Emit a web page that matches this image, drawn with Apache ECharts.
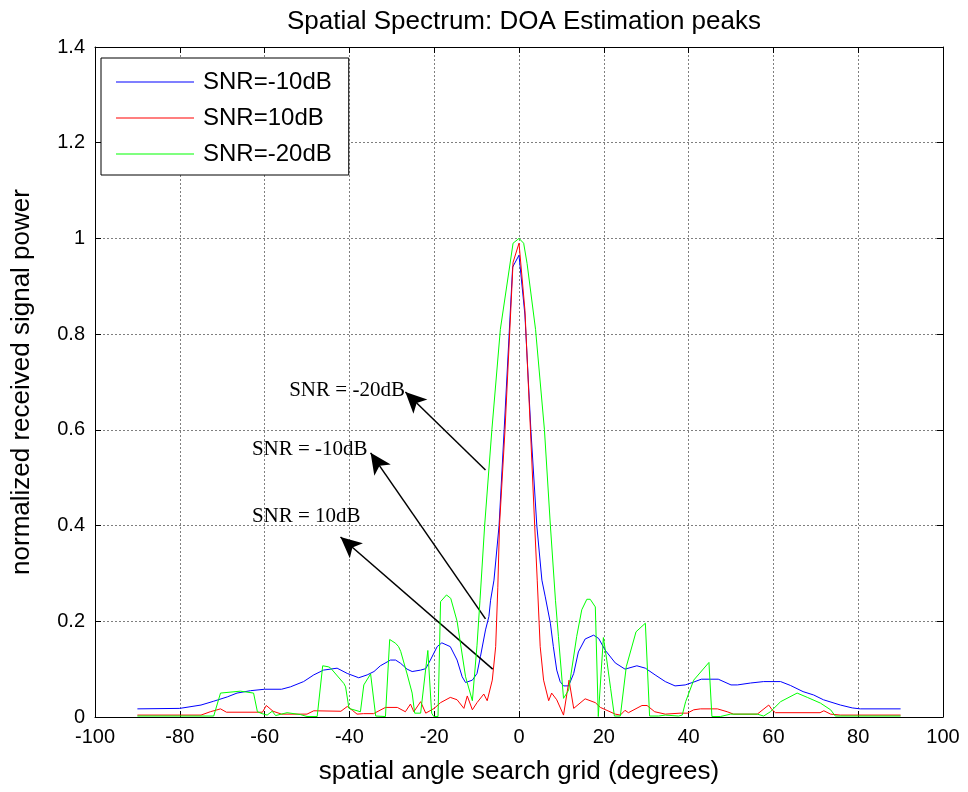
<!DOCTYPE html>
<html>
<head>
<meta charset="utf-8">
<title>Spatial Spectrum</title>
<script src="https://cdn.jsdelivr.net/npm/echarts@6/dist/echarts.min.js"></script>
<style>
  html, body { margin: 0; padding: 0; background: #fff; }
  #main { width: 968px; height: 792px; }
</style>
</head>
<body>
<div id="main"></div>
<script>
// angles (deg) and normalized power
var blueX = [-90,-80,-75,-72,-68.8,-66.5,-63.3,-60,-56,-53.9,-50.8,-48.4,-46.1,-42.9,-40.5,-37.8,-35.8,-34.2,-32.7,-30.3,
             -29.1,-27.9,-26.4,-25.2,-23.2,-22,-20.9,-19.3,-18.2,-16.2,-14.6,-13.4,-12.6,-11,-9.9,-9.1,-7.9,-7.1,-6.7,-5.9,
             -4.7,-3.5,-1.5,0,
             1.4,2.8,4.2,5.4,6.2,7.4,8.1,8.9,9.7,10.5,11.7,12.9,14,15.6,17.6,18.8,20.3,22.7,25,27.8,
             29.8,32.1,34.5,36.8,39.2,41.2,43,47,50,51.5,54.6,57.7,61.7,64,67,69.5,71.8,75.8,78.6,80.5,90];
var blueY = [0.017,0.018,0.025,0.033,0.042,0.05,0.055,0.058,0.058,0.063,0.074,0.088,0.098,0.102,0.091,0.082,0.088,0.095,0.107,0.119,
             0.119,0.112,0.1,0.095,0.098,0.101,0.119,0.147,0.155,0.147,0.119,0.084,0.072,0.077,0.091,0.126,0.182,0.21,0.244,0.286,
             0.4,0.6,0.94,0.965,
             0.84,0.6,0.4,0.286,0.251,0.196,0.147,0.098,0.074,0.065,0.065,0.091,0.136,0.163,0.171,0.164,0.14,0.113,0.1,0.107,
             0.102,0.088,0.074,0.065,0.067,0.073,0.079,0.079,0.067,0.067,0.071,0.074,0.074,0.066,0.053,0.046,0.036,0.025,0.019,0.017,0.017];

var redX = [-90,-75,-72.8,-70.4,-69,-60.5,-59.6,-58,-56,-50,-48.4,-42,-40.5,-39.3,-38.2,-36.7,-34.3,-31.5,-28.7,-26.8,
            -25.6,-24.8,-23.2,-22,-20,-18.5,-16.2,-14.6,-13,-12.2,-11,-9.9,-8.3,-7.5,-6.3,-5.5,-5.0,-4.6,-3.3,-1.4,
            0,1.4,2.7,3.7,4.3,5.0,5.8,7,7.7,8.9,10.5,11.8,12.9,15.6,18,19.2,22.7,23.9,25,25.8,
            29,30.2,32,34.5,38,39.7,41.2,42.8,46.8,49.1,50.6,56.2,58.9,59.7,60.5,71,71.9,73.5,75.8,90];
var redY = [0.004,0.004,0.011,0.017,0.01,0.01,0.024,0.012,0.006,0.006,0.013,0.012,0.022,0.014,0.006,0.007,0.007,0.02,0.02,0.011,
            0.027,0.011,0.032,0.008,0.018,0.03,0.041,0.036,0.018,0.044,0.015,0.03,0.048,0.034,0.077,0.147,0.27,0.4,0.6,0.95,
            0.99,0.85,0.6,0.4,0.286,0.147,0.077,0.034,0.05,0.036,0.004,0.077,0.018,0.038,0.03,0.02,0.006,0.004,0.014,0.009,
            0.024,0.024,0.011,0.006,0.008,0.008,0.015,0.017,0.017,0.011,0.006,0.006,0.025,0.015,0.009,0.009,0.013,0.006,0.004,0.004];

var greenX = [-90,-72,-71.6,-70.4,-65.7,-62.6,-61.7,-60.6,-59.4,-58.2,-57.4,-54.7,-51.5,-50,-47.6,-46.3,-45,-44.5,-41.3,-40.9,
              -40.1,-37.4,-36.6,-35,-33.8,-31.5,-30.5,-29.1,-28.4,-27.9,-26.4,-25.2,-24.6,-23.2,-21.5,-20.6,-20.1,-19.1,-18.5,-17.1,
              -16.1,-14.6,-12.6,-11,-9.9,-9.2,-8.1,-6.4,-4.4,-1.4,0,
              1.1,1.9,3.9,6.0,7.4,8.6,9.3,10.5,11.7,13.6,14.8,16,16.8,18,18.7,19.0,19.9,20.7,21.6,22.5,
              23.9,25.3,27.6,29.8,30.2,30.8,32.9,34.5,37.6,38.5,39.3,41.2,44.8,45.5,47.5,49.9,56.2,57.7,59.3,61.7,
              65.6,68,71.1,73.5,74.6,90];
var greenY = [0.002,0.002,0.004,0.05,0.054,0.05,0.011,0.007,0.004,0.012,0.003,0.009,0.005,0.001,0.001,0.107,0.105,0.103,0.07,0.063,
              0.018,0.011,0.067,0.09,0.002,0.001,0.162,0.154,0.147,0.137,0.09,0.05,0.008,0.008,0.139,0.008,0.001,0.001,0.241,0.255,
              0.248,0.2,0.084,0.034,0.15,0.244,0.4,0.6,0.81,0.99,1.0,
              0.99,0.948,0.81,0.6,0.4,0.244,0.168,0.039,0.056,0.168,0.224,0.246,0.246,0.23,0.001,0.001,0.166,0.119,0.06,0.002,
              0.002,0.105,0.178,0.196,0.196,0.002,0.002,0.004,0.002,0.004,0.032,0.077,0.114,0.001,0.001,0.006,0.006,0.002,0.011,0.032,
              0.05,0.041,0.029,0.015,0.002,0.002];

var seriesNames = ['SNR=-10dB', 'SNR=10dB', 'SNR=-20dB'];
var seriesColors = ['#0000ff', '#ff0000', '#00ff00'];

// annotation texts, their anchor (data coords) and arrows (tail -> head)
var noteTexts = ['SNR = -20dB', 'SNR = -10dB', 'SNR = 10dB'];
var noteX = [-54.2, -63, -63];
var noteY = [0.683, 0.558, 0.42];
var arrowTailX = [-7.9, -7.9, -6.2];
var arrowTailY = [0.516, 0.205, 0.1];
var arrowHeadX = [-26.8, -35.0, -42.1];
var arrowHeadY = [0.679, 0.552, 0.376];

function zip(xs, ys){
    var out = [];
    for (var i = 0; i < xs.length; i++) out.push([xs[i], ys[i]]);
    return out;
}

var chart = echarts.init(document.getElementById('main'));

var lineSeries = [zip(blueX, blueY), zip(redX, redY), zip(greenX, greenY)].map(function(d, i){
    return {
        name: seriesNames[i],
        type: 'line',
        data: d,
        symbol: 'none',
        showSymbol: false,
        color: seriesColors[i],
        lineStyle: { width: 1, color: seriesColors[i] },
        z: 3 + i
    };
});

var arrows = [], notes = [];
for (var i = 0; i < noteTexts.length; i++){
    arrows.push([
        { coord: [arrowTailX[i], arrowTailY[i]], symbol: 'none' },
        { coord: [arrowHeadX[i], arrowHeadY[i]], symbol: 'arrow', symbolSize: [15, 21] }
    ]);
    notes.push({ coord: [noteX[i], noteY[i]], name: noteTexts[i], value: noteTexts[i] });
}

lineSeries.push({
    name: 'notes',
    type: 'line',
    data: [],
    silent: true,
    markLine: {
        silent: true,
        animation: false,
        label: { show: false },
        lineStyle: { color: '#000', width: 1.5, type: 'solid' },
        itemStyle: { color: '#000' },
        data: arrows
    },
    markPoint: {
        silent: true,
        animation: false,
        symbol: 'circle',
        symbolSize: 0,
        label: {
            show: true,
            position: 'right',
            distance: 0,
            formatter: '{b}',
            color: '#000',
            fontFamily: 'Liberation Serif, Times New Roman, serif',
            fontSize: 21
        },
        data: notes
    }
});

var sansFont = 'Liberation Sans, Arial, sans-serif';
var gridLine = { show: true, lineStyle: { color: '#7f7f7f', width: 1, type: [2, 2] } };
var tickFont = { color: '#000', fontSize: 20, fontFamily: sansFont };
var nameFont = { color: '#000', fontSize: 26, fontFamily: sansFont };

var option = {
    backgroundColor: '#fff',
    animation: false,
    title: {
        text: 'Spatial Spectrum: DOA Estimation peaks',
        left: 519,
        textAlign: 'center',
        top: 4,
        textStyle: { color: '#000', fontSize: 26, fontWeight: 'normal', fontFamily: sansFont }
    },
    legend: {
        data: seriesNames,
        orient: 'vertical',
        left: 101,
        top: 58,
        padding: [12, 17, 9, 15],
        itemGap: 12,
        itemWidth: 78,
        itemHeight: 1.2,
        icon: 'rect',
        borderColor: '#000',
        borderWidth: 1,
        backgroundColor: '#fff',
        textStyle: { color: '#000', fontSize: 24, fontFamily: sansFont, padding: [0, 0, 0, 4] },
        z: 10
    },
    grid: { left: 95, right: 25, top: 47, bottom: 75, containLabel: false },
    xAxis: [{
        type: 'value', min: -100, max: 100, interval: 20,
        position: 'bottom',
        name: 'spatial angle search grid (degrees)',
        nameLocation: 'middle', nameGap: 42,
        nameTextStyle: nameFont,
        axisLine: { show: true, onZero: false, lineStyle: { color: '#000', width: 1 } },
        axisTick: { show: true, inside: true, length: 6, lineStyle: { color: '#000' } },
        axisLabel: Object.assign({ margin: 10 }, tickFont),
        splitLine: gridLine
    }, {
        type: 'value', min: -100, max: 100, interval: 20,
        position: 'top',
        axisLine: { show: true, onZero: false, lineStyle: { color: '#000', width: 1 } },
        axisTick: { show: true, inside: true, length: 6, lineStyle: { color: '#000' } },
        axisLabel: { show: false },
        splitLine: { show: false }
    }],
    yAxis: [{
        type: 'value', min: 0, max: 1.4, interval: 0.2,
        position: 'left',
        name: 'normalized received signal power',
        nameLocation: 'middle', nameGap: 60,
        nameTextStyle: nameFont,
        axisLine: { show: true, onZero: false, lineStyle: { color: '#000', width: 1 } },
        axisTick: { show: true, inside: true, length: 6, lineStyle: { color: '#000' } },
        axisLabel: Object.assign({ margin: 10 }, tickFont),
        splitLine: gridLine
    }, {
        type: 'value', min: 0, max: 1.4, interval: 0.2,
        position: 'right',
        axisLine: { show: true, onZero: false, lineStyle: { color: '#000', width: 1 } },
        axisTick: { show: true, inside: true, length: 6, lineStyle: { color: '#000' } },
        axisLabel: { show: false },
        splitLine: { show: false }
    }],
    series: lineSeries
};

chart.setOption(option);
</script>
</body>
</html>
